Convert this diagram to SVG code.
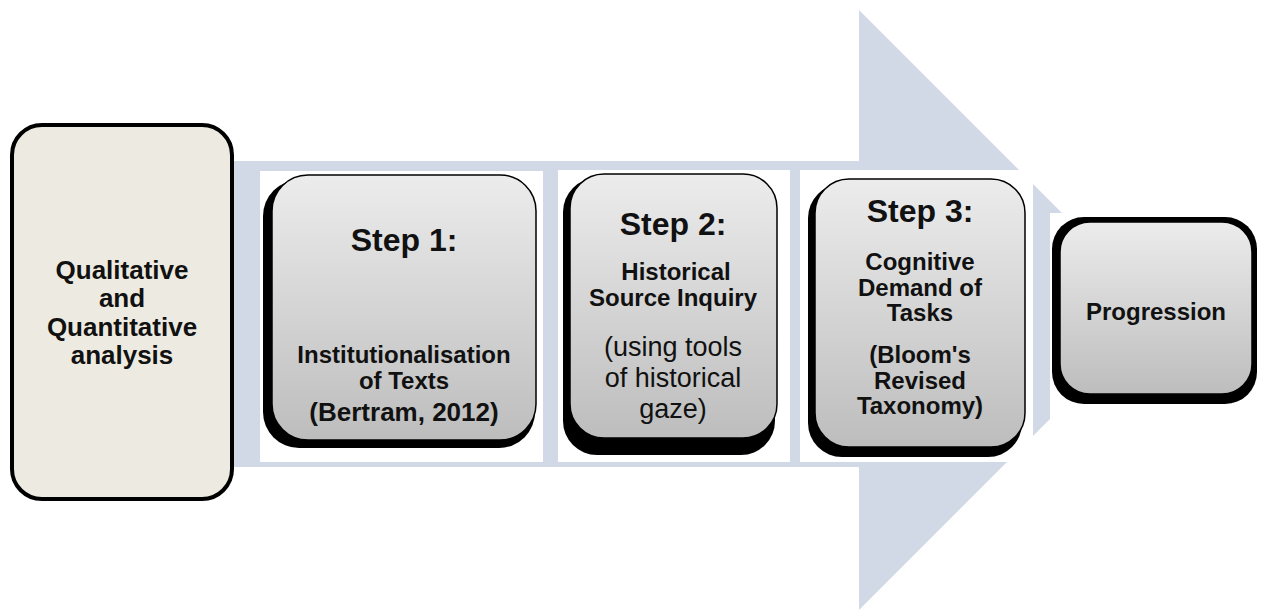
<svg xmlns="http://www.w3.org/2000/svg" width="1269" height="612" viewBox="0 0 1269 612">
<defs>
<linearGradient id="g" x1="0" y1="0" x2="0" y2="1">
<stop offset="0" stop-color="#ECECEC"/>
<stop offset="1" stop-color="#BDBDBD"/>
</linearGradient>
</defs>
<style>
text{font-family:"Liberation Sans",Arial,sans-serif;fill:#111;text-anchor:middle}
.b{font-weight:bold;font-size:24px}
.h{font-weight:bold;font-size:32px}
.r{font-size:27px}
.shadow{fill:#000}
.card{fill:url(#g);stroke:#000;stroke-width:1.5}
.bg{fill:#fff}
</style>
<rect width="1269" height="612" fill="#fff"/>
<g id="arrow">
<polygon points="232,161 859,161 859,10 1159,310 859,610 859,467 232,467" fill="#D1D8E6"/>
<rect class="bg" x="260" y="171" width="283" height="291"/>
<rect class="bg" x="558" y="170" width="232" height="292"/>
<rect class="bg" x="800" y="170" width="233" height="292"/>
<rect class="bg" x="1050" y="213" width="219" height="217"/>
</g>
<g id="start">
<rect x="12" y="125" width="220" height="374" rx="30" fill="#EDEBE1" stroke="#000" stroke-width="4"/>
<text class="b" style="font-size:26px" x="122" y="279">Qualitative</text>
<text class="b" style="font-size:26px" x="122" y="307">and</text>
<text class="b" style="font-size:26px" x="122" y="336">Quantitative</text>
<text class="b" style="font-size:26px" x="122" y="364">analysis</text>
</g>
<g id="step1">
<rect class="shadow" x="263" y="180" width="272" height="268" rx="36"/>
<rect class="card" x="272" y="175" width="264" height="265" rx="36"/>
<text class="h" x="404" y="251">Step 1:</text>
<text class="b" x="404" y="363">Institutionalisation</text>
<text class="b" x="404" y="389">of Texts</text>
<text class="b" style="font-size:26px" x="404" y="421">(Bertram, 2012)</text>
</g>
<g id="step2">
<rect class="shadow" x="563" y="178" width="212" height="277" rx="34"/>
<rect class="card" x="570" y="174" width="207" height="264" rx="34"/>
<text class="h" x="673" y="235">Step 2:</text>
<text class="b" x="676" y="280">Historical</text>
<text class="b" x="673" y="306">Source Inquiry</text>
<text class="r" x="673" y="356">(using tools</text>
<text class="r" x="673" y="387">of historical</text>
<text class="r" x="673" y="418">gaze)</text>
</g>
<g id="step3">
<rect class="shadow" x="808" y="184" width="214" height="273" rx="34"/>
<rect class="card" x="815" y="179" width="210" height="268" rx="34"/>
<text class="h" x="920" y="222">Step 3:</text>
<text class="b" x="920" y="270">Cognitive</text>
<text class="b" x="920" y="296">Demand of</text>
<text class="b" x="920" y="321">Tasks</text>
<text class="b" x="920" y="363">(Bloom's</text>
<text class="b" x="920" y="389">Revised</text>
<text class="b" x="920" y="414">Taxonomy)</text>
</g>
<g id="progression">
<rect class="shadow" x="1052" y="217" width="205" height="187" rx="32"/>
<rect class="card" x="1060" y="222" width="192" height="172" rx="30"/>
<text class="b" x="1156" y="320">Progression</text>
</g>
<g id="connectors"></g>
</svg>
